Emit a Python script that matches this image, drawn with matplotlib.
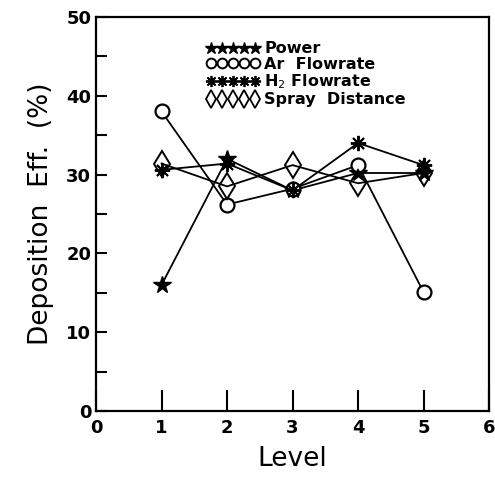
import numpy as np
import matplotlib.pyplot as plt
from matplotlib.lines import Line2D

levels = [1, 2, 3, 4, 5]
power = [16.0, 32.0, 28.0, 30.2, 30.2]
ar_flow = [38.0, 26.2, 28.2, 31.2, 15.1]
h2_flow = [30.6, 31.4, 28.0, 34.0, 31.2]
spray = [31.4, 28.5, 31.2, 28.9, 30.2]

fig = plt.figure(figsize=(4.95, 4.82), dpi=100)
ax = fig.add_axes([0.194, 0.147, 0.794, 0.818])

lw = 1.3
ax.plot(levels, power, color='black', lw=lw, marker='*', ms=13, mfc='black', mec='black')
ax.plot(levels, ar_flow, color='black', lw=lw, marker='o', ms=10, mfc='white', mec='black', mew=1.6)
ax.plot(levels, h2_flow, color='black', lw=lw, marker=(8, 2, 0), ms=11, mec='black', mew=1.4)
ax.plot(levels, spray, color='black', lw=lw, marker='d', ms=13, mfc='none', mec='black', mew=1.4)

ax.set_xlim(0, 6)
ax.set_ylim(0, 50)
ax.set_xticks(range(7))
ax.set_yticks(range(0, 51, 10))
ax.set_yticks(range(5, 50, 10), minor=True)
ax.tick_params(axis='x', direction='in', length=15, width=1.5, top=False, labelsize=13, pad=6)
ax.tick_params(axis='y', which='both', direction='in', length=8, width=1.5, right=False, labelsize=13)
for lab in ax.get_xticklabels() + ax.get_yticklabels():
    lab.set_fontweight('bold')
for s in ax.spines.values():
    s.set_linewidth(1.6)

ax.set_xlabel('Level', fontsize=19, labelpad=6)
ax.set_ylabel('Deposition  Eff.  (%)', fontsize=19, labelpad=9)

handles = [
    Line2D([], [], ls='', marker='*', ms=9, color='black'),
    Line2D([], [], ls='', marker='o', ms=7, mfc='white', mec='black', mew=1.4),
    Line2D([], [], ls='', marker=(8, 2, 0), ms=8, color='black', mew=1.3),
    Line2D([], [], ls='', marker='d', ms=9, mfc='none', mec='black', mew=1.3),
]
names = ['Power', 'Ar  Flowrate', r'H$_2$ Flowrate', 'Spray  Distance']
leg = ax.legend(handles, names, numpoints=5, loc='upper left', bbox_to_anchor=(0.245, 0.975),
                frameon=False, handlelength=3.3, handletextpad=0.3, labelspacing=0.05,
                prop={'weight': 'bold', 'size': 11.5}, markerscale=1.0)

fig.savefig('out.png', dpi=100)
